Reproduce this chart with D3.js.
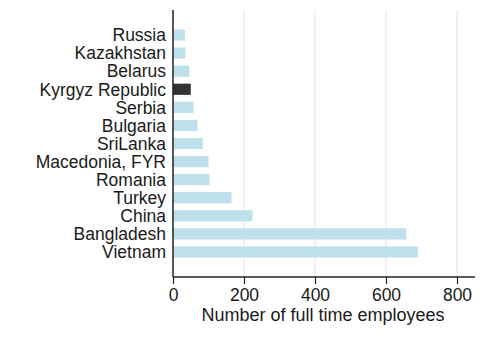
<!DOCTYPE html>
<html><head><meta charset="utf-8">
<script src="https://cdn.jsdelivr.net/npm/d3@7"></script>
<style>body{margin:0;background:#fff}text{font-family:"Liberation Sans",Arial,sans-serif;fill:#1a1a1a}</style>
</head><body><svg id="c" width="500" height="338"></svg>
<script>
const countries = ["Russia","Kazakhstan","Belarus","Kyrgyz Republic","Serbia","Bulgaria","SriLanka","Macedonia, FYR","Romania","Turkey","China","Bangladesh","Vietnam"];
const employees = [34,35,46,50,58,69,84,100,103,165,224,657,690];
const highlight = ["Kyrgyz Republic"];
const xTicks = [0,200,400,600,800];
const xTitle = "Number of full time employees";

const svg = d3.select("#c");
const x = d3.scaleLinear().domain([0,800]).range([173,457]);
const y = d3.scaleBand().domain(countries).range([26,261]).paddingInner(0.38).paddingOuter(0.19);

// gridlines
svg.append("g").selectAll("line").data(xTicks.slice(1)).join("line")
  .attr("x1",d=>x(d)).attr("x2",d=>x(d)).attr("y1",10).attr("y2",277)
  .attr("stroke","#ececec").attr("stroke-width",1.5);

// bars
svg.append("g").selectAll("rect").data(countries).join("rect")
  .attr("x",x(0)).attr("y",d=>y(d))
  .attr("width",(d,i)=>x(employees[i])-x(0)).attr("height",y.bandwidth())
  .attr("fill",d=>highlight.includes(d)?"#333333":"#bde0ea");

// y labels
svg.append("g").selectAll("text").data(countries).join("text")
  .attr("x",166).attr("y",d=>y(d)+y.bandwidth()/2).attr("dy","0.36em")
  .attr("text-anchor","end").attr("font-size",17.5).text(d=>d);

// y axis line
svg.append("line").attr("x1",173).attr("x2",173).attr("y1",10).attr("y2",277)
  .attr("stroke","#222").attr("stroke-width",1.5);

// x axis
const xa = svg.append("g").attr("transform","translate(0,277)")
  .call(d3.axisBottom(x).tickValues(xTicks).tickSize(7).tickPadding(5));
xa.select(".domain").attr("d","M173,0H475").attr("stroke","#222").attr("stroke-width",1.5);
xa.selectAll(".tick line").attr("stroke","#222").attr("stroke-width",1.2);
xa.selectAll(".tick text").attr("font-size",17.5).attr("font-family","Liberation Sans, Arial, sans-serif").attr("fill","#1a1a1a");

svg.append("text").attr("x",323).attr("y",321).attr("text-anchor","middle")
  .attr("font-size",18).text(xTitle);
</script></body></html>
